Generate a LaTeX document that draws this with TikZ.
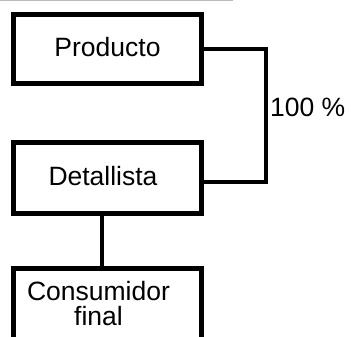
\documentclass[tikz,border=0pt]{standalone}
\usepackage{fontspec}
\setmainfont{Liberation Sans}
\begin{document}
\begin{tikzpicture}[x=1pt,y=1pt,
  box/.style={draw=black,line width=5pt,inner sep=0pt},
  conn/.style={draw=black,line width=4pt},
  lbl/.style={inner sep=0pt,font=\fontsize{26.5}{25}\selectfont,align=center}]
\useasboundingbox (0,0) rectangle (351,-337);
\clip (0,0) rectangle (351,-337);
\draw[gray!55,line width=1.5pt] (0,-0.7) -- (233,-0.7);
% boxes
\node[box,minimum width=188pt,minimum height=69pt] (prod) at (107,-49.5) {};
\node[box,minimum width=188pt,minimum height=71pt] (det) at (107,-177.5) {};
\node[box,minimum width=188pt,minimum height=90pt] (cons) at (107,-313) {};
% texts
\node[lbl] (prodT) at (107.5,-47) {Producto};
\node[lbl] (detT) at (103,-176) {Detallista};
\node[lbl,anchor=base] (consT) at (98.5,-325.7) {Consumidor\\final};
\node[lbl,anchor=base west] (pct) at (270,-116.5) {100 \%};
% connectors
\coordinate (c1) at (266,-49.5);
\coordinate (c2) at (266,-182);
\draw[conn] (prod.east |- c1) -- (c1) -- (c2) -- (det.east |- c2);
\draw[conn] (det.south -| 101.5,0) -- (cons.north -| 101.5,0);
\end{tikzpicture}
\end{document}
